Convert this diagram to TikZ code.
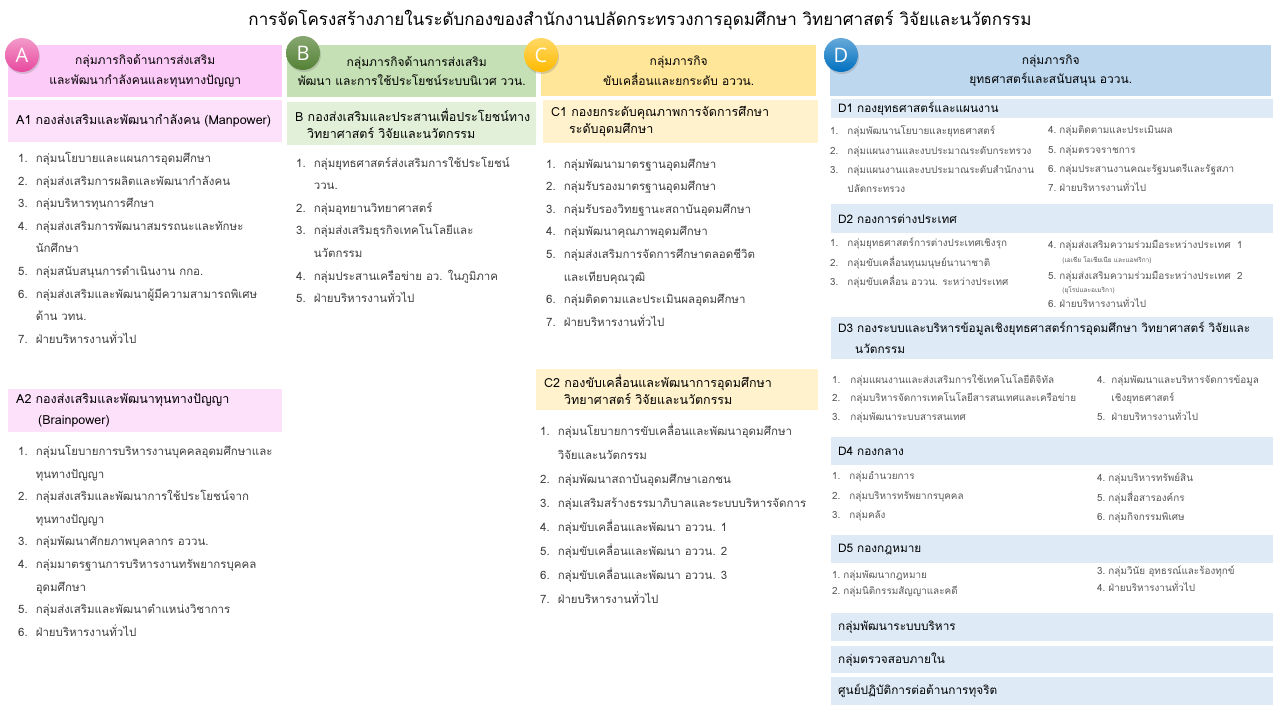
\documentclass[tikz,border=0pt]{standalone}
\usepackage{fontspec}
\setmainfont[Script=Thai]{Loma}
\newfontfamily\badgefont{Open Sans}
\usetikzlibrary{positioning, shadows}

\definecolor{pinkhead}{HTML}{FCCBF8}
\definecolor{pinkbox}{HTML}{FDE1FB}
\definecolor{pinkball}{HTML}{E8489E}
\definecolor{greenhead}{HTML}{C5E0B4}
\definecolor{greenbox}{HTML}{E2F0D9}
\definecolor{greenball}{HTML}{548235}
\definecolor{goldhead}{HTML}{FFE699}
\definecolor{goldbox}{HTML}{FFF2CC}
\definecolor{goldball}{HTML}{FFC000}
\definecolor{bluehead}{HTML}{BDD7EE}
\definecolor{bluebox}{HTML}{DEEBF7}
\definecolor{blueball}{HTML}{0070C0}
\definecolor{listgray}{HTML}{404040}
\definecolor{dgray}{HTML}{595959}

\newcommand{\titlefont}{\fontsize{17}{20}\selectfont}
\newcommand{\headfont}{\fontsize{12}{19.5}\selectfont}
\newcommand{\divfont}{\fontsize{12.5}{17}\selectfont}
\newcommand{\ddivfont}{\fontsize{11.8}{17}\selectfont}
\newcommand{\listfont}{\fontsize{11.5}{22.6}\selectfont}
\newcommand{\clistfont}{\fontsize{11.5}{24}\selectfont}
\newcommand{\dlistfont}{\fontsize{9.9}{19.3}\selectfont}
\newcommand{\subfont}{\fontsize{6.5}{8}\selectfont}

\begin{document}
\begin{tikzpicture}[x=1pt, y=-1pt,
  grouphead/.style={anchor=north west, minimum height=51pt, align=center,
                    font=\headfont, inner sep=0pt},
  divbox/.style={anchor=north west, inner xsep=8pt, inner ysep=0pt, align=left,
                 font=\divfont},
  dbox/.style={divbox, fill=bluebox, minimum width=442pt, text width=428pt,
               inner xsep=7pt, font=\ddivfont},
  items/.style={anchor=north west, inner sep=0pt, text=listgray, font=\listfont},
  ditems/.style={anchor=north west, inner sep=0pt, text=dgray, font=\dlistfont},
  badge/.style={circle, minimum size=34pt, inner sep=0pt, text=white,
                font=\badgefont\fontsize{20}{20}\selectfont,
                drop shadow={opacity=0.3, shadow xshift=1pt, shadow yshift=-2pt}}
]
\fill[white] (0,0) rectangle (1280,720);
\node[font=\titlefont] (title) at (640,20)
  {การจัดโครงสร้างภายในระดับกองของสำนักงานปลัดกระทรวงการอุดมศึกษา วิทยาศาสตร์ วิจัยและนวัตกรรม};

%% GROUP A
\node[grouphead, fill=pinkhead, minimum width=274pt, minimum height=52pt] (ahead) at (8,45)
  {กลุ่มภารกิจด้านการส่งเสริม\\และพัฒนากำลังคนและทุนทางปัญญา};
\node[badge, top color=pinkball!55!white, bottom color=pinkball] (abadge) at (22,55) {A};
\node[divbox, fill=pinkbox, minimum width=274pt, minimum height=42pt, text width=258pt] (aone) at (8,100)
  {A1~กองส่งเสริมและพัฒนากำลังคน~(Manpower)};
\node[items] (aonelist) at (18,146.5) {\begin{tabular}{@{}l@{\hspace{8pt}}l@{}}
1. & กลุ่มนโยบายและแผนการอุดมศึกษา\\
2. & กลุ่มส่งเสริมการผลิตและพัฒนากำลังคน\\
3. & กลุ่มบริหารทุนการศึกษา\\
4. & กลุ่มส่งเสริมการพัฒนาสมรรถนะและทักษะ\\
   & นักศึกษา\\
5. & กลุ่มสนับสนุนการดำเนินงาน กกอ.\\
6. & กลุ่มส่งเสริมและพัฒนาผู้มีความสามารถพิเศษ\\
   & ด้าน วทน.\\
7. & ฝ่ายบริหารงานทั่วไป
\end{tabular}};
\node[divbox, fill=pinkbox, minimum width=274pt, minimum height=43pt, text width=258pt] (atwo) at (8,389)
  {A2~กองส่งเสริมและพัฒนาทุนทางปัญญา\\[4pt]\hspace*{22pt}(Brainpower)};
\node[items] (atwolist) at (18,439.5) {\begin{tabular}{@{}l@{\hspace{8pt}}l@{}}
1. & กลุ่มนโยบายการบริหารงานบุคคลอุดมศึกษาและ\\
   & ทุนทางปัญญา\\
2. & กลุ่มส่งเสริมและพัฒนาการใช้ประโยชน์จาก\\
   & ทุนทางปัญญา\\
3. & กลุ่มพัฒนาศักยภาพบุคลากร อววน.\\
4. & กลุ่มมาตรฐานการบริหารงานทรัพยากรบุคคล\\
   & อุดมศึกษา\\
5. & กลุ่มส่งเสริมและพัฒนาตำแหน่งวิชาการ\\
6. & ฝ่ายบริหารงานทั่วไป
\end{tabular}};

%% GROUP B
\node[grouphead, fill=greenhead, minimum width=249pt, minimum height=52pt] (bhead) at (287,45)
  {\hspace*{10pt}กลุ่มภารกิจด้านการส่งเสริม\\พัฒนา และการใช้ประโยชน์ระบบนิเวศ ววน.};
\node[badge, top color=greenball!70!white, bottom color=greenball] (bbadge) at (303,53) {B};
\node[divbox, fill=greenbox, minimum width=249pt, minimum height=43pt, text width=233pt] (bone) at (287,102)
  {B~กองส่งเสริมและประสานเพื่อประโยชน์ทาง\\\hspace*{12pt}วิทยาศาสตร์~วิจัยและนวัตกรรม};
\node[items] (bonelist) at (296,151) {\begin{tabular}{@{}l@{\hspace{8pt}}l@{}}
1. & กลุ่มยุทธศาสตร์ส่งเสริมการใช้ประโยชน์\\
   & ววน.\\
2. & กลุ่มอุทยานวิทยาศาสตร์\\
3. & กลุ่มส่งเสริมธุรกิจเทคโนโลยีและ\\
   & นวัตกรรม\\
4. & กลุ่มประสานเครือข่าย อว. ในภูมิภาค\\
5. & ฝ่ายบริหารงานทั่วไป
\end{tabular}};

%% GROUP C
\node[grouphead, fill=goldhead, minimum width=275pt] (chead) at (541,45)
  {กลุ่มภารกิจ\\ขับเคลื่อนและยกระดับ อววน.};
\node[badge, top color=goldball!60!white, bottom color=goldball!90!orange] (cbadge) at (541,55) {C};
\node[divbox, fill=goldbox, minimum width=273pt, minimum height=43pt, text width=259pt] (cone) at (543,100)
  {C1~กองยกระดับคุณภาพการจัดการศึกษา\\\hspace*{18pt}ระดับอุดมศึกษา};
\node[items] (conelist) at (546,152) {\begin{tabular}{@{}l@{\hspace{8pt}}l@{}}
1. & กลุ่มพัฒนามาตรฐานอุดมศึกษา\\
2. & กลุ่มรับรองมาตรฐานอุดมศึกษา\\
3. & กลุ่มรับรองวิทยฐานะสถาบันอุดมศึกษา\\
4. & กลุ่มพัฒนาคุณภาพอุดมศึกษา\\
5. & กลุ่มส่งเสริมการจัดการศึกษาตลอดชีวิต\\
   & และเทียบคุณวุฒิ\\
6. & กลุ่มติดตามและประเมินผลอุดมศึกษา\\
7. & ฝ่ายบริหารงานทั่วไป
\end{tabular}};
\node[divbox, fill=goldbox, minimum width=280pt, minimum height=41pt, text width=266pt] (ctwo) at (536,369)
  {C2~กองขับเคลื่อนและพัฒนาการอุดมศึกษา\\\hspace*{20pt}วิทยาศาสตร์~วิจัยและนวัตกรรม};
\node[items, font=\clistfont] (ctwolist) at (540,418) {\begin{tabular}{@{}l@{\hspace{8pt}}l@{}}
1. & กลุ่มนโยบายการขับเคลื่อนและพัฒนาอุดมศึกษา\\
   & วิจัยและนวัตกรรม\\
2. & กลุ่มพัฒนาสถาบันอุดมศึกษาเอกชน\\
3. & กลุ่มเสริมสร้างธรรมาภิบาลและระบบบริหารจัดการ\\
4. & กลุ่มขับเคลื่อนและพัฒนา อววน. 1\\
5. & กลุ่มขับเคลื่อนและพัฒนา อววน. 2\\
6. & กลุ่มขับเคลื่อนและพัฒนา อววน. 3\\
7. & ฝ่ายบริหารงานทั่วไป
\end{tabular}};

%% GROUP D
\node[grouphead, fill=bluehead, minimum width=441pt] (dhead) at (830,45)
  {กลุ่มภารกิจ\\ยุทธศาสตร์และสนับสนุน อววน.};
\node[badge, top color=blueball!60!white, bottom color=blueball] (dbadge) at (841,55) {D};
% D1
\node[dbox, minimum height=19pt] (done) at (831,99) {D1~กองยุทธศาสตร์และแผนงาน};
\node[ditems] (donelist) at (830,121) {\begin{tabular}{@{}l@{\hspace{9pt}}l@{}}
1. & กลุ่มพัฒนานโยบายและยุทธศาสตร์\\
2. & กลุ่มแผนงานและงบประมาณระดับกระทรวง\\
3. & กลุ่มแผนงานและงบประมาณระดับสำนักงาน\\
   & ปลัดกระทรวง
\end{tabular}};
\node[ditems] (donelistb) at (1048,120) {\begin{tabular}{@{}l@{\hspace{3pt}}l@{}}
4. & กลุ่มติดตามและประเมินผล\\
5. & กลุ่มตรวจราชการ\\
6. & กลุ่มประสานงานคณะรัฐมนตรีและรัฐสภา\\
7. & ฝ่ายบริหารงานทั่วไป
\end{tabular}};
% D2
\node[dbox, minimum height=29pt] (dtwo) at (831,204) {D2~กองการต่างประเทศ};
\node[ditems] (dtwolist) at (830,233) {\begin{tabular}{@{}l@{\hspace{9pt}}l@{}}
1. & กลุ่มยุทธศาสตร์การต่างประเทศเชิงรุก\\
2. & กลุ่มขับเคลื่อนทุนมนุษย์นานาชาติ\\
3. & กลุ่มขับเคลื่อน อววน. ระหว่างประเทศ
\end{tabular}};
\node[ditems] (dtwolistb) at (1048,235) {\begin{tabular}{@{}l@{\hspace{3pt}}l@{}}
4. & กลุ่มส่งเสริมความร่วมมือระหว่างประเทศ~~1\\[-6pt]
   & \hspace*{3pt}{\subfont (เอเชีย โอเชียเนีย และแอฟริกา)}\\[-2pt]
5. & กลุ่มส่งเสริมความร่วมมือระหว่างประเทศ~~2\\[-6pt]
   & \hspace*{3pt}{\subfont (ยุโรปและอเมริกา)}\\[-4pt]
6. & ฝ่ายบริหารงานทั่วไป
\end{tabular}};
% D3
\node[dbox, minimum height=42pt] (dthree) at (831,317)
  {D3~กองระบบและบริหารข้อมูลเชิงยุทธศาสตร์การอุดมศึกษา~วิทยาศาสตร์~วิจัยและ\\[4pt]\hspace*{17pt}นวัตกรรม};
\node[ditems, font=\fontsize{9.9}{18.5}\selectfont] (dthreelist) at (832,370) {\begin{tabular}{@{}l@{\hspace{10pt}}l@{}}
1. & กลุ่มแผนงานและส่งเสริมการใช้เทคโนโลยีดิจิทัล\\
2. & กลุ่มบริหารจัดการเทคโนโลยีสารสนเทศและเครือข่าย\\
3. & กลุ่มพัฒนาระบบสารสนเทศ
\end{tabular}};
\node[ditems, font=\fontsize{9.9}{18.5}\selectfont] (dthreelistb) at (1097,370) {\begin{tabular}{@{}l@{\hspace{6pt}}l@{}}
4. & กลุ่มพัฒนาและบริหารจัดการข้อมูล\\
   & เชิงยุทธศาสตร์\\
5. & ฝ่ายบริหารงานทั่วไป
\end{tabular}};
% D4
\node[dbox, minimum height=28pt] (dfour) at (831,437) {D4~กองกลาง};
\node[ditems] (dfourlist) at (832,466) {\begin{tabular}{@{}l@{\hspace{9pt}}l@{}}
1. & กลุ่มอำนวยการ\\
2. & กลุ่มบริหารทรัพยากรบุคคล\\
3. & กลุ่มคลัง
\end{tabular}};
\node[ditems] (dfourlistb) at (1097,468) {\begin{tabular}{@{}l@{\hspace{3pt}}l@{}}
4. & กลุ่มบริหารทรัพย์สิน\\
5. & กลุ่มสื่อสารองค์กร\\
6. & กลุ่มกิจกรรมพิเศษ
\end{tabular}};
% D5
\node[dbox, minimum height=28pt] (dfive) at (831,535) {D5~กองกฎหมาย};
\node[ditems, font=\fontsize{9.9}{16}\selectfont] (dfivelist) at (832,567) {\begin{tabular}{@{}l@{\hspace{3pt}}l@{}}
1. & กลุ่มพัฒนากฎหมาย\\
2. & กลุ่มนิติกรรมสัญญาและคดี
\end{tabular}};
\node[ditems, font=\fontsize{9.9}{17}\selectfont] (dfivelistb) at (1097,562) {\begin{tabular}{@{}l@{\hspace{3pt}}l@{}}
3. & กลุ่มวินัย อุทธรณ์และร้องทุกข์\\
4. & ฝ่ายบริหารงานทั่วไป
\end{tabular}};
%% UNITS
\node[dbox, minimum height=28pt] (reform) at (831,613) {กลุ่มพัฒนาระบบบริหาร};
\node[dbox, minimum height=27pt] (audit) at (831,646) {กลุ่มตรวจสอบภายใน};
\node[dbox, minimum height=28pt] (antifraud) at (831,677) {ศูนย์ปฏิบัติการต่อต้านการทุจริต};
\useasboundingbox (0,0) rectangle (1280,720);
\end{tikzpicture}
\end{document}
